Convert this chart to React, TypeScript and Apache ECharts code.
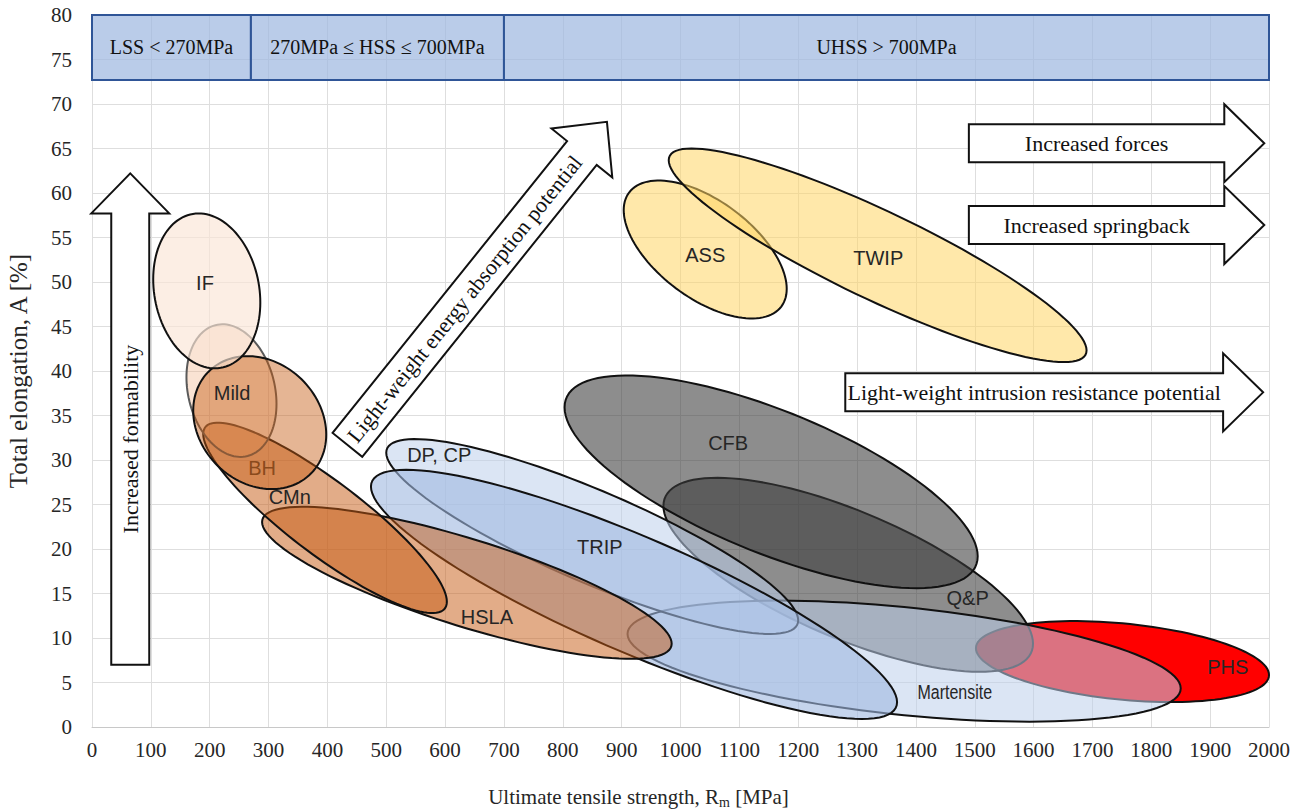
import React, { useEffect, useRef } from 'react';
import * as echarts from 'echarts';

// ---------- data ----------
const bandNames = ['LSS < 270MPa', '270MPa ≤ HSS ≤ 700MPa', 'UHSS > 700MPa'];
const bandFrom = [0, 270, 700];
const bandTo = [270, 700, 2000];
const bandBottom = 72.7;
const bandTop = 80;

// steel families, listed in drawing order
const steelNames = ['PHS', 'Q&P', 'CFB', 'Martensite', 'DP, CP', 'TRIP', 'HSLA', 'CMn', 'Mild', 'BH', 'IF', 'ASS', 'TWIP'];
const rmCenter = [1751, 1285, 1154, 1380, 850, 921, 637, 396, 237, 285, 195, 1042, 1335];
const aCenter = [7.35, 17.1, 27.55, 7.4, 21.4, 14.9, 16.2, 23.5, 37.8, 34.2, 49.0, 53.65, 53.0];
const rmHalfRange = [249, 314, 351, 470, 350, 447, 348, 207, 76.5, 113, 91, 138.5, 355];
const aHalfRange = [4.55, 10.9, 11.95, 6.8, 10.95, 14.0, 8.54, 10.7, 7.45, 7.47, 8.7, 7.75, 12.0];
const correlation = [-0.33, -0.71, -0.7, -0.45, -0.86, -0.865, -0.8, -0.88, -0.2, -0.18, -0.15, -0.57, -0.89];
const labelRm = [1930, 1488, 1081, 1466, 590, 863, 671, 336, 238, 289, 192, 1042, 1336];
const labelA = [6.7, 14.5, 31.9, 3.9, 30.6, 20.2, 12.4, 25.8, 37.5, 29.1, 49.9, 53.0, 52.7];

const arrowTexts = ['Increased formability', 'Light-weight energy absorption potential', 'Increased forces', 'Increased springback', 'Light-weight intrusion resistance potential'];
const arrowTailRm = [65, 434, 1490, 1490, 1280];
const arrowTailA = [7.0, 31.7, 65.6, 56.4, 37.6];
const arrowTipRm = [65, 875, 1992, 1992, 1990];
const arrowTipA = [62.2, 68.0, 65.6, 56.4, 37.6];

// ---------- styles ----------
const steelStyle: Record<string, { fill: string; stroke: string; text?: string; squeeze?: number }> = {
  'PHS': { fill: 'rgba(255,0,0,1)', stroke: '#111' },
  'Q&P': { fill: 'rgba(58,58,58,0.58)', stroke: '#111' },
  'CFB': { fill: 'rgba(58,58,58,0.58)', stroke: '#111' },
  'Martensite': { fill: 'rgba(190,207,235,0.55)', stroke: '#111', squeeze: 0.8 },
  'DP, CP': { fill: 'rgba(190,207,235,0.55)', stroke: '#111' },
  'TRIP': { fill: 'rgba(159,184,224,0.6)', stroke: '#111' },
  'HSLA': { fill: 'rgba(197,90,17,0.5)', stroke: '#111' },
  'CMn': { fill: 'rgba(197,90,17,0.5)', stroke: '#111' },
  'Mild': { fill: 'rgba(240,175,130,0.35)', stroke: '#5a5a5a' },
  'BH': { fill: 'rgba(197,90,17,0.45)', stroke: '#111', text: '#8a4a1c' },
  'IF': { fill: 'rgba(251,229,214,0.65)', stroke: '#111' },
  'ASS': { fill: 'rgba(255,214,100,0.55)', stroke: '#111' },
  'TWIP': { fill: 'rgba(255,214,100,0.55)', stroke: '#111' },
};

const SERIF = '"Liberation Serif", "Times New Roman", serif';
const SANS = '"Liberation Sans", Arial, sans-serif';

export default function App() {
  const ref = useRef<HTMLDivElement>(null);
  useEffect(() => {
    if (!ref.current) return;
    const chart = echarts.init(ref.current, null, { renderer: 'svg' });

    const bandSeries = {
      type: 'custom',
      data: bandNames.map((_, i) => [bandFrom[i], bandTop]),
      renderItem: (params: any, api: any) => {
        const i = params.dataIndex;
        const p0 = api.coord([bandFrom[i], bandTop]);
        const p1 = api.coord([bandTo[i], bandBottom]);
        return {
          type: 'group',
          children: [
            { type: 'rect', shape: { x: p0[0], y: p0[1], width: p1[0] - p0[0], height: p1[1] - p0[1] }, style: { fill: 'rgba(160,185,225,0.72)', stroke: '#2f5597', lineWidth: 2 } },
            { type: 'text', x: (p0[0] + p1[0]) / 2, y: (p0[1] + p1[1]) / 2, style: { text: bandNames[i], align: 'center', verticalAlign: 'middle', fontSize: 20, fontFamily: SERIF, fill: '#111' } },
          ],
        };
      },
      z: 5,
    };

    const ellipseSeries = {
      type: 'custom',
      data: steelNames.map((_, i) => [rmCenter[i], aCenter[i]]),
      renderItem: (params: any, api: any) => {
        const i = params.dataIndex;
        const cx = rmCenter[i], cy = aCenter[i], hx = rmHalfRange[i], hy = aHalfRange[i], r = correlation[i];
        const s = Math.sqrt(1 - r * r);
        const pts: number[][] = [];
        const N = 120;
        for (let k = 0; k < N; k++) {
          const t = (k / N) * Math.PI * 2;
          pts.push(api.coord([cx + hx * Math.cos(t), cy + hy * (r * Math.cos(t) + s * Math.sin(t))]));
        }
        const st = steelStyle[steelNames[i]];
        return { type: 'polygon', shape: { points: pts }, style: { fill: st.fill, stroke: st.stroke, lineWidth: 2 } };
      },
      z: 3,
    };

    const labelSeries = {
      type: 'custom',
      data: steelNames.map((_, i) => [labelRm[i], labelA[i]]),
      renderItem: (params: any, api: any) => {
        const i = params.dataIndex;
        const p = api.coord([labelRm[i], labelA[i]]);
        const st = steelStyle[steelNames[i]];
        return { type: 'text', x: p[0], y: p[1], scaleX: st.squeeze || 1, style: { text: steelNames[i], align: 'center', verticalAlign: 'middle', fontSize: 20, fontFamily: SANS, fill: st.text || '#262626' } };
      },
      z: 6,
    };

    const SW = 38, HW = 78, HL = 40;
    const arrowSeries = {
      type: 'custom',
      data: arrowTexts.map((_, i) => [arrowTailRm[i], arrowTailA[i]]),
      renderItem: (params: any, api: any) => {
        const i = params.dataIndex;
        const a = api.coord([arrowTailRm[i], arrowTailA[i]]);
        const b = api.coord([arrowTipRm[i], arrowTipA[i]]);
        const dx = b[0] - a[0], dy = b[1] - a[1];
        const L = Math.sqrt(dx * dx + dy * dy);
        const ux = dx / L, uy = dy / L;
        const nx = -uy, ny = ux;
        const bx = b[0] - ux * HL, by = b[1] - uy * HL;
        const pts = [
          [a[0] + nx * SW / 2, a[1] + ny * SW / 2],
          [bx + nx * SW / 2, by + ny * SW / 2],
          [bx + nx * HW / 2, by + ny * HW / 2],
          [b[0], b[1]],
          [bx - nx * HW / 2, by - ny * HW / 2],
          [bx - nx * SW / 2, by - ny * SW / 2],
          [a[0] - nx * SW / 2, a[1] - ny * SW / 2],
        ];
        const rot = -Math.atan2(uy, ux);
        return {
          type: 'group',
          children: [
            { type: 'polygon', shape: { points: pts }, style: { fill: '#fff', stroke: '#111', lineWidth: 2 } },
            { type: 'text', x: (a[0] + bx) / 2, y: (a[1] + by) / 2, rotation: rot, style: { text: arrowTexts[i], align: 'center', verticalAlign: 'middle', fontSize: 22, fontFamily: SERIF, fill: '#111' } },
          ],
        };
      },
      z: 7,
    };

    chart.setOption({
      animation: false,
      backgroundColor: '#fff',
      grid: { left: 92, right: 36, top: 15, bottom: 84, containLabel: false, outerBoundsMode: 'none' },
      xAxis: {
        type: 'value', min: 0, max: 2000, interval: 100,
        axisLine: { show: true, lineStyle: { color: '#c8c8c8', width: 1 } },
        axisTick: { show: false },
        splitLine: { show: true, lineStyle: { color: '#dedede', width: 1 } },
        axisLabel: { fontSize: 21, fontFamily: SERIF, color: '#262626', margin: 12, formatter: (v: number) => String(v) },
        name: 'Ultimate tensile strength, R{sub|m} [MPa]',
        nameLocation: 'middle', nameGap: 58,
        nameTextStyle: { fontSize: 21, fontFamily: SERIF, color: '#262626', padding: [0, 84, 0, 0], rich: { sub: { fontSize: 14, fontFamily: SERIF, color: '#262626', padding: [10, 0, 0, 0] } } },
      },
      yAxis: {
        type: 'value', min: 0, max: 80, interval: 5,
        axisLine: { show: false },
        axisTick: { show: false },
        splitLine: { show: true, lineStyle: { color: '#dedede', width: 1 } },
        axisLabel: { fontSize: 21, fontFamily: SERIF, color: '#262626', margin: 20 },
        name: 'Total elongation, A [%]',
        nameLocation: 'middle', nameGap: 61,
        nameTextStyle: { fontSize: 25, fontFamily: SERIF, color: '#262626' },
      },
      series: [bandSeries, ellipseSeries, labelSeries, arrowSeries],
    });
    return () => chart.dispose();
  }, []);
  return <div ref={ref} style={{ position: 'fixed', left: 0, top: 0, width: 1305, height: 811 }} />;
}
